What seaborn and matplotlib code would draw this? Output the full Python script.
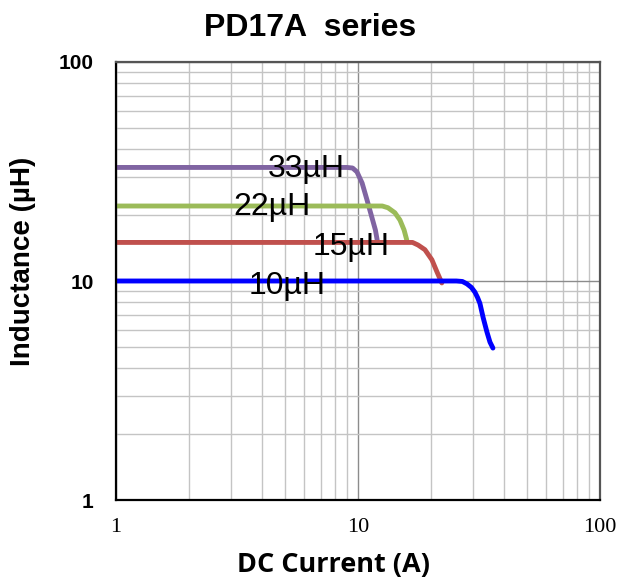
import pandas as pd
import matplotlib.pyplot as plt
import seaborn as sns
from matplotlib.ticker import LogLocator, NullFormatter, FixedLocator, FixedFormatter

# Curves (current A, inductance uH)
i_33 = [1, 5, 9.0, 9.5, 9.9, 10.4, 10.9, 11.4, 11.8, 12.0]
l_33 = [33, 33, 33, 32.8, 31.5, 28.0, 23.4, 19.6, 17.1, 15.4]

i_22 = [1, 5, 12.6, 13.3, 14.2, 14.9, 15.5, 15.9]
l_22 = [22, 22, 22, 21.6, 20.5, 19.0, 17.1, 15.4]

i_15 = [1, 5, 16.8, 17.7, 18.9, 20.2, 21.2, 22.2]
l_15 = [15, 15, 15, 14.6, 13.9, 12.5, 11.0, 9.8]

i_10 = [1, 5, 25.5, 27.0, 28.2, 29.4, 30.4, 31.2, 31.9, 32.9, 34.1, 35.1, 36.1]
l_10 = [10, 10, 10, 9.95, 9.7, 9.35, 8.9, 8.4, 7.9, 6.8, 5.85, 5.26, 4.94]

series = ["33µH", "22µH", "15µH", "10µH"]
colors = ["#8064A2", "#9BBB59", "#C0504D", "#0000FF"]

df = pd.concat([
    pd.DataFrame({"I": i_33, "L": l_33, "part": "33µH"}),
    pd.DataFrame({"I": i_22, "L": l_22, "part": "22µH"}),
    pd.DataFrame({"I": i_15, "L": l_15, "part": "15µH"}),
    pd.DataFrame({"I": i_10, "L": l_10, "part": "10µH"}),
])

# label anchor points (A, uH)
label_pos = {"33µH": (6.1, 32.5), "22µH": (4.4, 21.8), "15µH": (9.4, 14.3), "10µH": (5.1, 9.5)}

sns.set_style("white")
fig = plt.figure(figsize=(6.21, 5.81), dpi=100)
ax = fig.add_axes([0.1868, 0.1394, 0.7794, 0.7539])

sns.lineplot(data=df, x="I", y="L", hue="part", hue_order=series,
             palette=colors, sort=False, estimator=None, linewidth=3.5,
             legend=False, ax=ax)
for ln in ax.lines:
    ln.set_solid_joinstyle("round")
    ln.set_solid_capstyle("round")

ax.set_xscale("log")
ax.set_yscale("log")
ax.set_xlim(1, 100)
ax.set_ylim(1, 100)
ax.set_xlabel("")
ax.set_ylabel("")

ax.xaxis.set_major_locator(FixedLocator([1, 10, 100]))
ax.xaxis.set_major_formatter(FixedFormatter(["1", "10", "100"]))
ax.yaxis.set_major_locator(FixedLocator([1, 10, 100]))
ax.yaxis.set_major_formatter(FixedFormatter(["1", "10", "100"]))
ax.xaxis.set_minor_locator(LogLocator(base=10, subs=range(2, 10)))
ax.yaxis.set_minor_locator(LogLocator(base=10, subs=range(2, 10)))
ax.xaxis.set_minor_formatter(NullFormatter())
ax.yaxis.set_minor_formatter(NullFormatter())

ax.grid(True, which="major", color="#8c8c8c", linewidth=1.0)
ax.grid(True, which="minor", color="#c4c4c4", linewidth=1.0)
ax.set_axisbelow(True)
ax.tick_params(which="both", length=0, colors="black")
ax.tick_params(axis="x", pad=13)
ax.tick_params(axis="y", pad=16)

for lab in ax.get_xticklabels():
    lab.set_fontfamily("Liberation Serif")
    lab.set_fontsize(16)
for lab in ax.get_yticklabels():
    lab.set_fontfamily("Liberation Sans")
    lab.set_fontweight("bold")
    lab.set_fontsize(15)

for side in ["left", "bottom"]:
    ax.spines[side].set_color("black")
    ax.spines[side].set_linewidth(1.6)
for side in ["top", "right"]:
    ax.spines[side].set_color("#555555")
    ax.spines[side].set_linewidth(1.6)

for name in series:
    x, y = label_pos[name]
    ax.text(x, y, name, fontsize=23, family="Liberation Sans",
            ha="center", va="center", color="black")

fig.text(333 / 621, 1 - 565 / 581, "DC Current (A)", fontsize=19.5,
         fontweight="bold", family="Open Sans", ha="center", va="center",
         color="black")
fig.text(23 / 621, 1 - 261 / 581, "Inductance (µH)", fontsize=20,
         fontweight="bold", family="Liberation Sans", ha="center",
         va="center", rotation=90, color="black")
fig.text(310 / 621, 1 - 28 / 581, "PD17A  series", fontsize=23,
         fontweight="bold", family="Liberation Sans", ha="center",
         va="center", color="black")

fig.savefig("out.png", dpi=100)
